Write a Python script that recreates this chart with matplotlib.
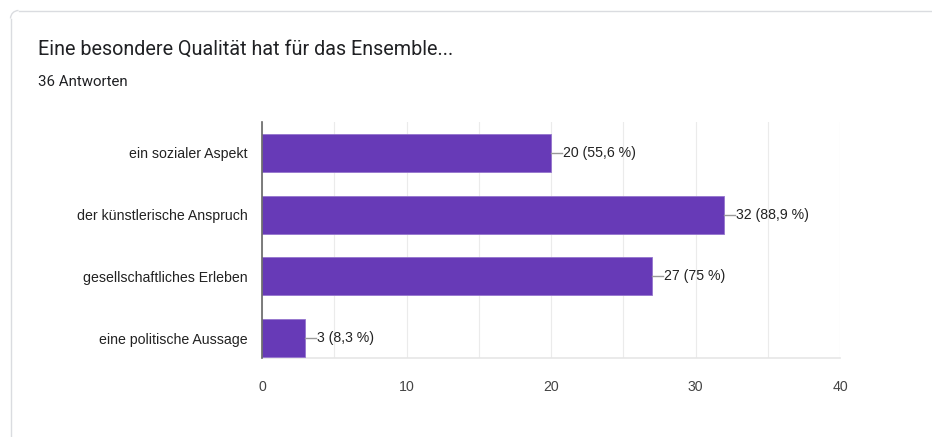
import numpy as np
import matplotlib
matplotlib.use("Agg")
import matplotlib.pyplot as plt
import matplotlib.patches as patches
from matplotlib.lines import Line2D

title = "Eine besondere Qualität hat für das Ensemble..."
subtitle = "36 Antworten"
categories = ["ein sozialer Aspekt", "der künstlerische Anspruch",
              "gesellschaftliches Erleben", "eine politische Aussage"]
counts = [20, 32, 27, 3]
labels = ["20 (55,6 %)", "32 (88,9 %)", "27 (75 %)", "3 (8,3 %)"]
xticks = [0, 10, 20, 30, 40]

plt.rcParams['font.family'] = ['Roboto', 'DejaVu Sans']
chart_font = ['Liberation Sans', 'DejaVu Sans']

W, H = 932, 437
fig = plt.figure(figsize=(W / 100, H / 100), dpi=100)

# card border (top-left rounded corner, pixel coords)
r = 8
bx, by = 10.5, 10.5
border = dict(color='#dadce0', linewidth=1, transform=None)
fig.lines.append(Line2D([bx, bx], [0, H - by - r], **border))
fig.lines.append(Line2D([bx + r, W + 5], [H - by, H - by], **border))
fig.patches.append(patches.Arc((bx + r, H - by - r), 2 * r, 2 * r,
                               theta1=90, theta2=180, edgecolor='#dadce0',
                               linewidth=1, transform=None))

fig.text(38 / W, 1 - 49 / H, title, fontsize=14.2, color='#202124', va='center')
fig.text(38 / W, 1 - 82 / H, subtitle, fontsize=10.8, color='#202124', va='center')

ax = fig.add_axes([262 / W, 1 - 358 / H, (840 - 262) / W, (358 - 122) / H])
ax.set_facecolor('none')
y = np.arange(len(categories))
ax.barh(y, counts, height=0.616, color='#673ab7', edgecolor='#9575cd',
        linewidth=0.6, zorder=3)
ax.set_xlim(0, 40)
ax.set_ylim(3.32, -0.5)
ax.set_yticks(y)
ax.set_yticklabels(categories, fontsize=10.2, color='#222222', family=chart_font)
ax.set_xticks(xticks)
ax.set_xticklabels([str(t) for t in xticks], fontsize=10.2, color='#444444',
                   family=chart_font)
ax.set_xticks(np.arange(5, 40, 10), minor=True)
ax.tick_params(axis='both', which='both', length=0)
ax.tick_params(axis='y', pad=10.5)
ax.tick_params(axis='x', pad=16)
ax.grid(axis='x', which='both', color='#ebebeb', linewidth=0.8, zorder=0)
for s in ['top', 'right']:
    ax.spines[s].set_visible(False)
ax.spines['bottom'].set_color('#e6e6e6')
ax.spines['bottom'].set_linewidth(1.2)
ax.spines['left'].set_color('#666666')
ax.spines['left'].set_linewidth(1.2)
ax.spines['left'].set_zorder(4)

for yi, c, lab in zip(y, counts, labels):
    ax.plot([c, c + 0.75], [yi, yi], color='#999999', linewidth=1, zorder=3)
    ax.text(c + 0.8, yi, lab, fontsize=10.2, color='#222222', va='center',
            family=chart_font)

fig.savefig("out.png", dpi=100)
